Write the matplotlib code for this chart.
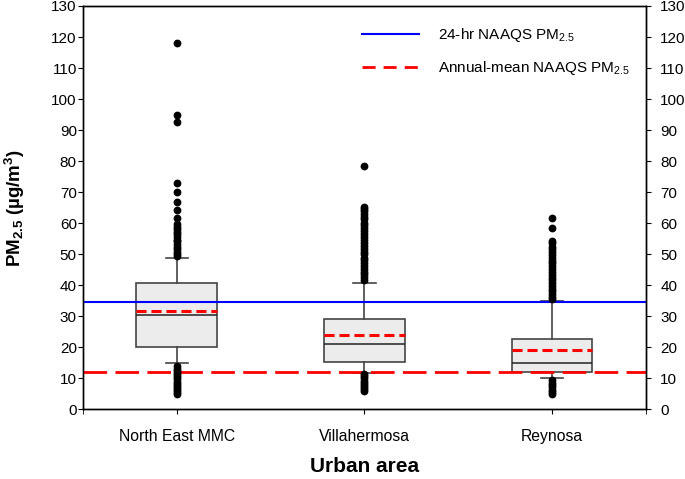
import matplotlib
matplotlib.use('Agg')
import matplotlib.pyplot as plt
from matplotlib.lines import Line2D

plt.rcParams['font.family'] = 'Liberation Sans'
plt.rcParams['mathtext.fontset'] = 'custom'
plt.rcParams['mathtext.rm'] = 'Liberation Sans'
plt.rcParams['mathtext.it'] = 'Liberation Sans:italic'
plt.rcParams['mathtext.bf'] = 'Liberation Sans:bold'

# box statistics [ug/m3]
areas = ["North East MMC", "Villahermosa", "Reynosa"]
q1 = [20.2, 15.1, 12.1]
med = [30.3, 20.9, 15.0]
q3 = [40.6, 29.1, 22.8]
mean = [31.7, 24.0, 19.0]
whis_lo = [14.8, 11.8, 10.0]
whis_hi = [48.9, 40.8, 34.8]

fliers_ne = [118.0, 94.9, 92.7, 72.9, 70.0, 66.8, 64.1, 61.6, 59.6, 58.9, 58.0, 57.1,
             56.5, 55.6, 54.7, 54.1, 53.2, 52.3, 51.7, 50.8, 50.1, 49.3,
             13.9, 13.1, 12.5, 11.8, 11.0, 10.4, 9.7, 8.9, 8.3, 7.5, 6.9, 6.1, 5.5, 4.9]
fliers_vh = [78.5, 65.3, 64.5, 63.8, 62.8, 62.1, 61.2, 60.0, 59.3, 58.3, 57.4, 56.4,
             55.4, 54.6, 53.6, 52.7, 51.8, 50.8, 49.9, 48.9, 48.1, 47.1, 46.2, 45.3,
             44.3, 43.5, 42.6, 41.7,
             11.5, 10.7, 10.0, 9.2, 8.6, 7.8, 7.1, 6.5, 6.0]
fliers_ry = [61.6, 58.3, 54.3, 53.5, 52.4, 51.7, 50.7, 49.8, 48.8, 47.9, 47.0, 46.1,
             45.2, 44.3, 43.4, 42.4, 41.6, 40.6, 39.8, 38.9, 38.1, 37.1, 36.3, 35.6,
             9.3, 8.5, 7.8, 7.1, 6.3, 5.6, 5.0]
fliers = [fliers_ne, fliers_vh, fliers_ry]

naaqs_24hr = 34.5
naaqs_annual = 12.0

stats = []
for i in range(len(areas)):
    stats.append(dict(label=areas[i], q1=q1[i], med=med[i], q3=q3[i], mean=mean[i],
                      whislo=whis_lo[i], whishi=whis_hi[i], fliers=fliers[i]))

fig = plt.figure(figsize=(6.85, 4.79), dpi=100)
ax = fig.add_axes([0.1212, 0.1455, 0.8214, 0.842])

edge = '#444444'
ax.bxp(stats, positions=[1, 2, 3], widths=0.43, capwidths=0.12, patch_artist=True,
       showmeans=True, meanline=True,
       boxprops=dict(facecolor='#ececec', edgecolor=edge, linewidth=1.2),
       medianprops=dict(color='#222222', linewidth=1.1),
       whiskerprops=dict(color=edge, linewidth=1.2),
       capprops=dict(color=edge, linewidth=1.2),
       flierprops=dict(marker='o', markerfacecolor='k', markeredgecolor='k',
                       markersize=4.6, zorder=4),
       meanprops=dict(color='red', linestyle=(0, (3.3, 1.6)), linewidth=2.2))

ax.axhline(naaqs_24hr, color='#0000ff', linewidth=1.5, zorder=3)
ax.axhline(naaqs_annual, color='#ff0000', linewidth=2, dashes=(8.5, 3), zorder=3)

ax.set_xlim(0.5, 3.5)
ax.set_ylim(0, 130)
ax.set_yticks(range(0, 131, 10))
ax.set_xticks([1, 2, 3])
ax.set_xticklabels(areas)
ax.set_xticks([0.5, 3.5], minor=True)
ax.tick_params(axis='x', which='both', direction='out', length=3.5, labelsize=11.3, pad=11)
ax.tick_params(axis='y', direction='out', length=3.5, labelsize=11, pad=1)

ax2 = ax.twinx()
ax2.set_ylim(0, 130)
ax2.set_yticks(range(0, 131, 10))
ax2.tick_params(axis='y', direction='out', length=3.5, labelsize=11, pad=7)

for a in (ax, ax2):
    for s in a.spines.values():
        s.set_color('k')
        s.set_linewidth(1)

ax.set_xlabel("Urban area", fontsize=15, fontweight='bold', labelpad=9)
ax.set_ylabel(r'PM$_\mathbf{2.5}$ (µg/m$^\mathbf{3}$)', fontsize=13.5, fontweight='bold')
ax.yaxis.set_label_coords(-0.1, 0.5)

handles = [Line2D([], [], color='#0000ff', linewidth=1.5),
           Line2D([], [], color='#ff0000', linewidth=2, dashes=(4.7, 2.9))]
labels = [r'24-hr NAAQS PM$_{2.5}$', r'Annual-mean NAAQS PM$_{2.5}$']
ax.legend(handles, labels, loc='upper left', bbox_to_anchor=(0.496, 0.95),
          frameon=False, fontsize=11, handlelength=3.7, handletextpad=1.25,
          labelspacing=1.0, borderpad=0, borderaxespad=0)

fig.savefig('out.png', dpi=100)
